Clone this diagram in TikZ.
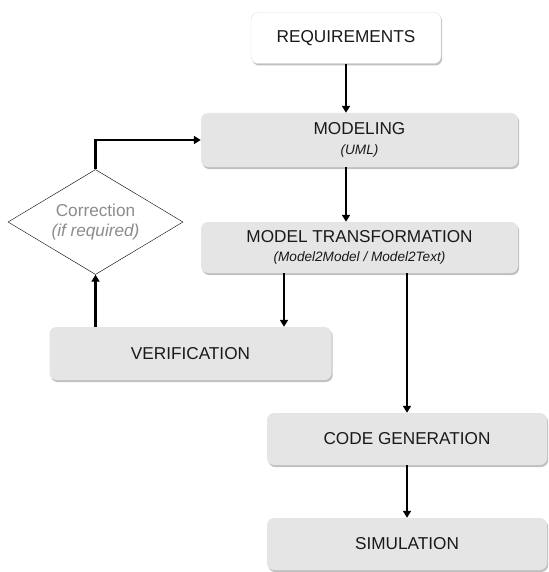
\documentclass[tikz,border=0pt]{standalone}
\usepackage{fontspec}
\setmainfont{Liberation Sans}
\usetikzlibrary{shapes.geometric,shadows,arrows.meta}

\definecolor{boxgray}{RGB}{230,229,230}
\definecolor{txtdark}{RGB}{25,25,25}
\definecolor{txtgray}{RGB}{140,140,140}
\newcommand{\bigtxt}{\fontsize{17.2}{19.5}\selectfont}
\newcommand{\subtxt}{\fontsize{13.6}{19.5}\selectfont\itshape}

\tikzset{
	stage/.style={rectangle, rounded corners=7pt, fill=boxgray, text=txtdark, align=center,
		inner sep=2pt, font=\bigtxt,
		drop shadow={shadow xshift=1.2pt, shadow yshift=-2pt, opacity=0.45, fill=black!55}},
	flow/.style={line width=2.4pt, -{Triangle[length=7pt,width=8pt]}},
}

\begin{document}
\begin{tikzpicture}[x=1pt, y=-1pt]

	\useasboundingbox (0, 0) rectangle (548, 572);

	\node[stage, fill=white, draw=black!12, minimum width=190pt, minimum height=51pt] (req) at (346, 38) {REQUIREMENTS};
	\node[stage, minimum width=317pt, minimum height=54pt] (mod) at (359.5, 140) {MODELING\\{\subtxt (UML)}};
	\node[stage, minimum width=317pt, minimum height=51pt] (mt) at (359.5, 247.5) {MODEL TRANSFORMATION\\{\subtxt (Model2Model / Model2Text)}};
	\node[stage, minimum width=282pt, minimum height=53pt] (ver) at (190.5, 353.5) {VERIFICATION};
	\node[stage, minimum width=280pt, minimum height=52pt] (cg) at (407, 439) {CODE GENERATION};
	\node[stage, minimum width=280pt, minimum height=52pt] (sim) at (407, 544) {SIMULATION};

	\node[diamond, draw, thin, inner sep=0pt, aspect=1.67, minimum width=175pt, minimum height=105pt,
		align=center, text=txtgray, font=\bigtxt] (corr) at (95.5, 222) {Correction\\{\itshape (if required)}};

	\coordinate (vx) at (284, 0);

	\draw[flow] (req) -- (req |- mod.north);
	\draw[flow] (req |- mod.south) -- (req |- mt.north);
	\draw[flow] (vx |- mt.south) -- (vx |- ver.north);
	\draw[flow] (cg.north |- mt.south) -- (cg.north);
	\draw[flow] (cg) -- (sim);
	\draw[flow] (corr.south |- ver.north) -- (corr.south);
	\draw[flow] (corr.north) |- (mod.west);

\end{tikzpicture}
\end{document}
